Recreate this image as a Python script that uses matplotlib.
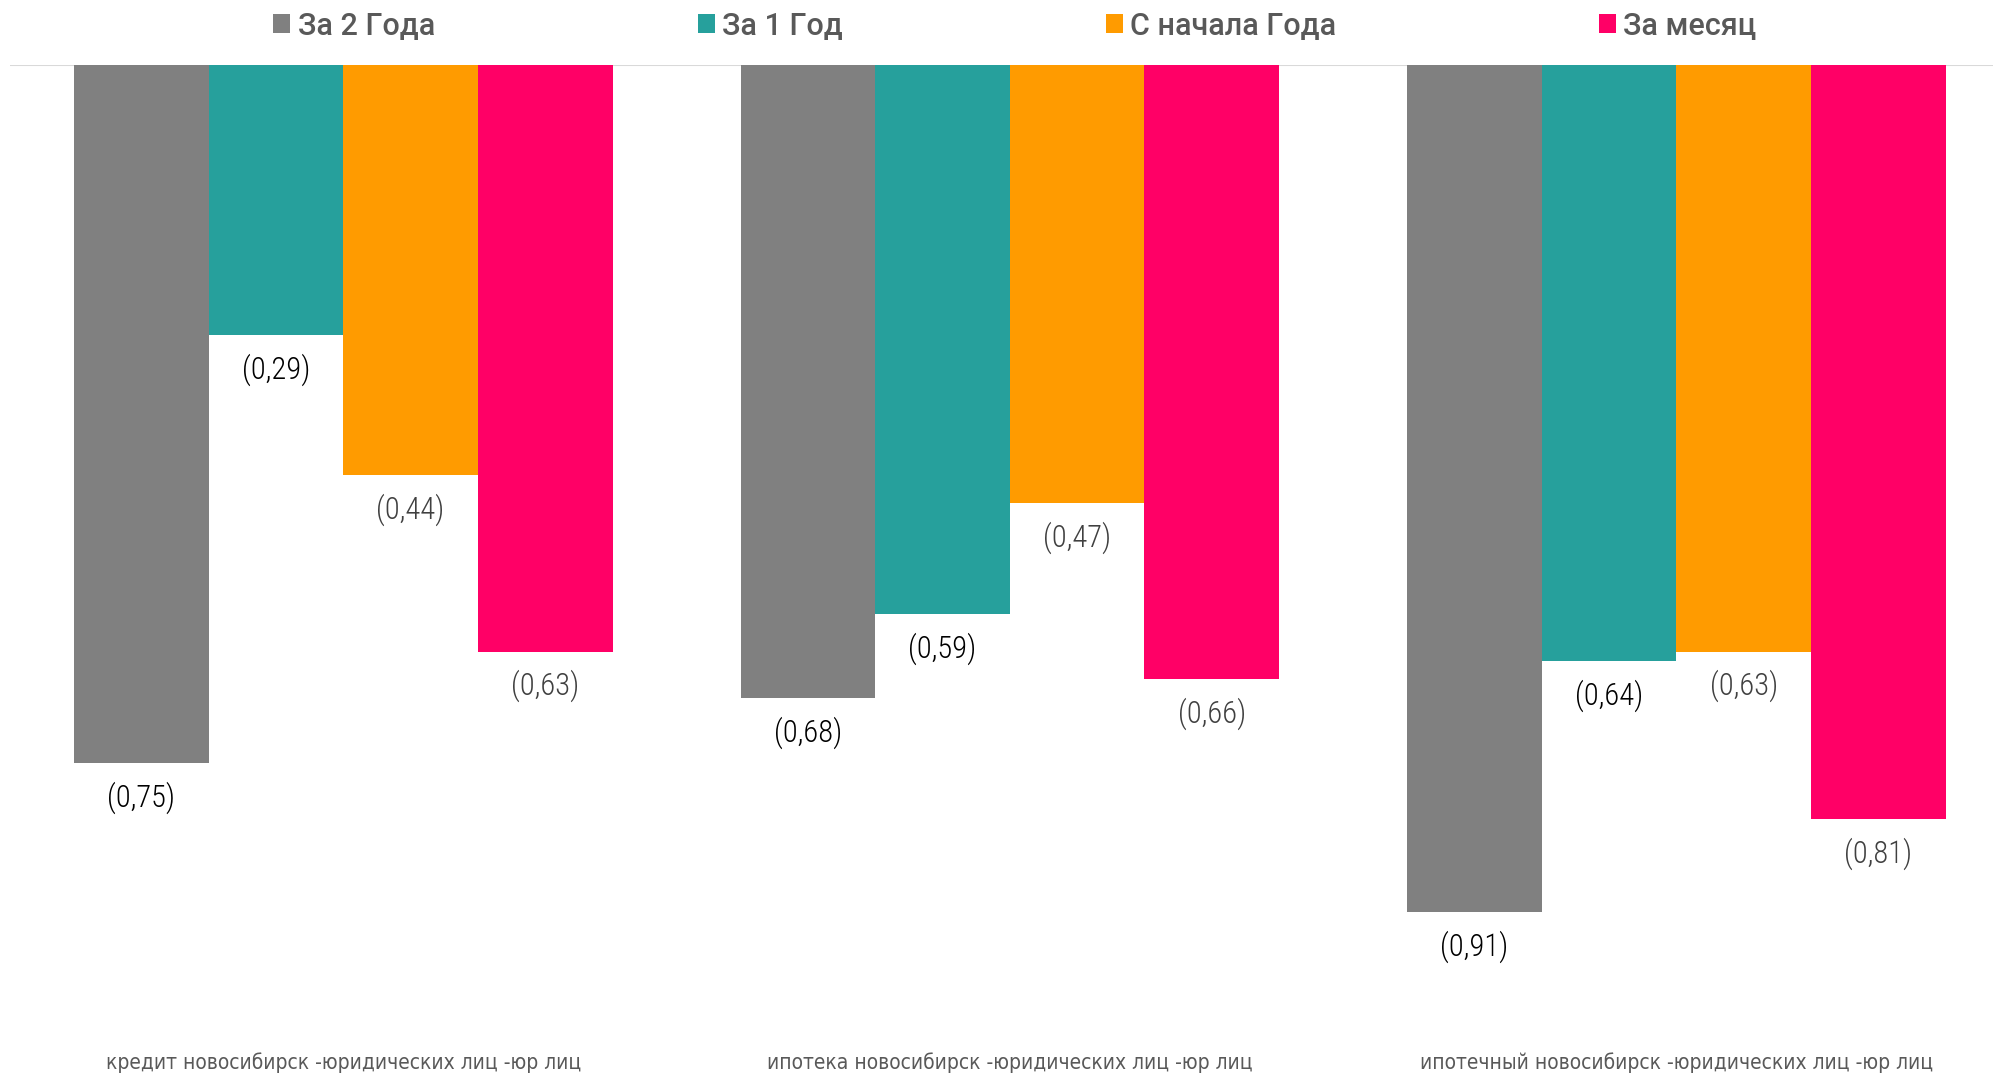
import matplotlib
matplotlib.use("Agg")
import matplotlib.pyplot as plt
from matplotlib.patches import Patch
import numpy as np

plt.rcParams["font.family"] = ["Roboto Condensed", "DejaVu Sans"]

categories = [
    "кредит новосибирск -юридических лиц -юр лиц",
    "ипотека новосибирск -юридических лиц -юр лиц",
    "ипотечный новосибирск -юридических лиц -юр лиц",
]
series_names = ["За 2 Года", "За 1 Год", "С начала Года", "За месяц"]
za_2_goda = [-0.75, -0.68, -0.91]
za_1_god = [-0.29, -0.59, -0.64]
s_nachala_goda = [-0.44, -0.47, -0.63]
za_mesyac = [-0.63, -0.66, -0.81]

series = [za_2_goda, za_1_god, s_nachala_goda, za_mesyac]
colors = ["#808080", "#26A09C", "#FF9B00", "#FF0066"]
label_colors = ["#000000", "#000000", "#404040", "#404040"]

W, H = 1993, 1076
fig = plt.figure(figsize=(W / 100, H / 100), dpi=100)
# axes box in pixels: left 10, right 1993, top 65, bottom 996
ax = fig.add_axes([10 / W, 1 - 996 / H, 1983 / W, 931 / H])

x = np.arange(len(categories))
bw = 0.202
for i, (vals, col, lc) in enumerate(zip(series, colors, label_colors)):
    pos = x + (i - 1.5) * bw
    ax.bar(pos, vals, width=bw, color=col, edgecolor="none")
    for px, v in zip(pos, vals):
        txt = "(" + f"{abs(v):.2f}".replace(".", ",") + ")"
        ax.annotate(txt, (px, v), xytext=(0, -25), textcoords="offset points",
                    ha="center", va="center", fontsize=22, fontweight="light",
                    color=lc)

ax.set_xlim(-0.5, 2.475)
ax.set_ylim(-1.0, 0)
ax.axhline(0, color="#d9d9d9", lw=1.5, zorder=0)
for s in ax.spines.values():
    s.set_visible(False)
ax.set_yticks([])
ax.set_xticks([])

for xi, cat in zip(x, categories):
    ax.text(xi, -1.0 - 67 / 931, cat, ha="center", va="center",
            fontsize=15, color="#595959", clip_on=False,
            family="DejaVu Sans", fontstretch="condensed")

handles = [Patch(facecolor=c, edgecolor="none") for c in colors]
fig.legend(handles, series_names, loc="center", ncol=4,
           bbox_to_anchor=(1015 / W, 1 - 26 / H), frameon=False,
           labelcolor="#595959",
           prop={"family": ["Roboto", "DejaVu Sans"], "weight": "medium", "size": 22},
           handlelength=0.55, handleheight=0.55, handletextpad=0.25,
           columnspacing=8.6)

fig.savefig("out.png", dpi=100)
